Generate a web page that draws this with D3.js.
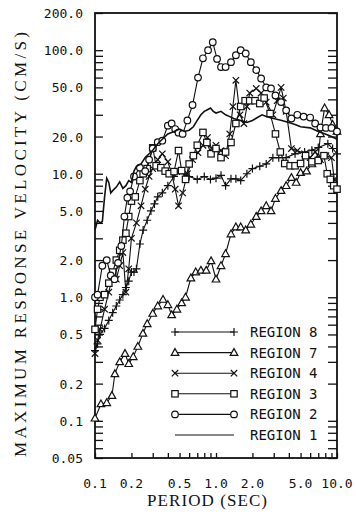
<!DOCTYPE html>
<html>
<head>
<meta charset="utf-8">
<script src="https://cdn.jsdelivr.net/npm/d3@7"></script>
<style>
  body { margin: 0; background: #fff; }
  .tick-label { font-family: "DejaVu Sans Mono", monospace; font-size: 13px; fill: #111; }
  .axis-title { font-family: "Liberation Serif", serif; font-size: 17px; fill: #111; }
  .legend-label { font-family: "DejaVu Sans Mono", monospace; font-size: 14px; fill: #111; }
</style>
</head>
<body>
<div id="chart"></div>
<script>
// [period (s), max response velocity (cm/s)]
const region1 = [[0.1,3.5],[0.105,4.2],[0.11,4.0],[0.115,4.1],[0.12,6.5],[0.125,9.2],[0.13,8.5],[0.135,7.0],[0.14,7.3],[0.15,7.8],[0.16,8.6],[0.17,7.6],[0.18,8.0],[0.19,8.8],[0.2,8.5],[0.21,10.5],[0.22,11.5],[0.24,12],[0.26,13.5],[0.28,14.5],[0.3,15.5],[0.33,17.5],[0.36,19],[0.4,21],[0.45,22],[0.5,23],[0.55,22],[0.6,22.5],[0.65,24],[0.7,27],[0.75,30],[0.8,32],[0.85,33],[0.9,34],[0.95,32],[1.0,31],[1.1,32],[1.2,30],[1.3,29],[1.4,28],[1.6,27],[1.8,26],[2.0,27],[2.2,28.5],[2.4,30],[2.6,29],[3.0,28],[3.5,27],[4.0,26],[4.5,25],[5.0,24],[6.0,23.5],[7.0,22],[8.0,21],[9.0,20],[10.0,19]];
const region2 = [[0.1,1.0],[0.105,1.05],[0.115,1.8],[0.125,2.0],[0.135,1.5],[0.145,1.4],[0.155,1.9],[0.165,2.6],[0.175,4.5],[0.185,6.4],[0.195,7.2],[0.21,9.5],[0.235,11.2],[0.26,10.5],[0.28,13],[0.3,16],[0.33,18],[0.36,18.5],[0.4,24.5],[0.43,25.5],[0.46,23],[0.49,21.5],[0.53,21],[0.58,27],[0.64,36],[0.71,60],[0.78,86],[0.86,100],[0.94,116],[1.02,85],[1.1,73],[1.2,73],[1.33,80],[1.46,91],[1.6,100],[1.76,94],[1.94,80],[2.15,69],[2.36,59],[2.6,50],[2.85,49],[3.1,43],[3.45,38],[3.8,32.6],[4.2,28],[4.7,30],[5.3,29],[6.0,28.5],[6.6,25.5],[7.3,23.7],[8.1,23.5],[9.0,23.5],[10,22]];
const region3 = [[0.1,0.55],[0.105,0.8],[0.11,1.0],[0.12,1.05],[0.13,1.3],[0.14,1.6],[0.15,2.0],[0.16,2.4],[0.17,2.9],[0.18,3.3],[0.19,4.5],[0.2,6],[0.215,6.5],[0.235,8.8],[0.25,10],[0.27,11],[0.3,16.2],[0.32,11.6],[0.35,11.2],[0.38,10.5],[0.41,10],[0.45,10.4],[0.49,15.4],[0.52,10.6],[0.56,9],[0.6,12],[0.65,14],[0.7,17],[0.78,21.6],[0.84,17.9],[0.91,14.5],[1.0,16],[1.1,13.5],[1.2,15],[1.33,17.9],[1.46,25.5],[1.6,35],[1.74,39],[1.9,39],[2.1,39],[2.3,37],[2.5,41],[2.8,30.7],[3.1,21],[3.4,15],[3.7,12.1],[4.1,11.6],[4.5,11.6],[5.0,12.1],[5.5,14],[6.2,12.5],[7.0,12.8],[7.8,14],[8.3,10],[8.8,9],[9.4,8],[10,7.5]];
const region4 = [[0.1,0.35],[0.105,0.45],[0.11,0.55],[0.12,0.8],[0.13,1.1],[0.14,1.5],[0.15,1.4],[0.16,1.8],[0.17,2.3],[0.18,1.1],[0.19,1.7],[0.2,3],[0.22,4],[0.24,5.5],[0.26,7.5],[0.28,9.5],[0.3,11],[0.33,13],[0.36,14.5],[0.4,12.5],[0.43,10],[0.46,7.5],[0.49,5.5],[0.53,7],[0.58,10],[0.64,13],[0.71,14.8],[0.78,17],[0.85,19.6],[0.92,16],[1.0,17],[1.1,15.4],[1.2,14],[1.3,21],[1.38,35],[1.46,57],[1.58,30],[1.7,25.5],[1.8,35],[1.9,45],[2.15,49],[2.36,45],[2.6,38],[2.95,30],[3.2,39],[3.45,50],[3.6,41],[3.8,32],[4.2,16],[4.7,15.4],[5.4,14.5],[6.0,13.5],[6.6,15],[7.3,13],[8.1,14],[9.0,13.5],[9.5,9],[10,7.5]];
const region7 = [[0.1,0.105],[0.112,0.137],[0.125,0.14],[0.138,0.16],[0.146,0.24],[0.16,0.3],[0.177,0.35],[0.19,0.29],[0.207,0.33],[0.226,0.4],[0.249,0.51],[0.27,0.61],[0.3,0.74],[0.33,0.85],[0.365,0.96],[0.4,0.87],[0.43,0.72],[0.475,0.8],[0.52,0.9],[0.56,1.0],[0.62,1.43],[0.68,1.6],[0.75,1.65],[0.83,1.65],[0.91,1.97],[1.0,1.4],[1.1,1.8],[1.2,2.25],[1.33,3.25],[1.46,3.7],[1.6,3.7],[1.76,3.5],[1.94,3.9],[2.15,4.5],[2.36,5],[2.6,5.5],[2.85,5.0],[3.1,6.3],[3.45,7.3],[3.8,8],[4.2,9.3],[4.6,8.5],[5.0,10.2],[5.6,10.5],[6.2,12],[7.0,13.5],[7.3,21],[7.9,34],[8.6,30],[9.2,25],[10,22]];
const region8 = [[0.1,0.37],[0.105,0.42],[0.11,0.5],[0.12,0.56],[0.13,0.65],[0.14,0.75],[0.15,0.85],[0.16,0.95],[0.17,1.05],[0.18,1.2],[0.19,1.35],[0.2,1.6],[0.21,1.6],[0.22,1.7],[0.235,2.7],[0.25,3.5],[0.27,4.2],[0.29,5.0],[0.31,5.7],[0.33,6.5],[0.36,7.0],[0.4,8],[0.45,9.5],[0.5,10.5],[0.55,10],[0.6,9.5],[0.7,9],[0.8,9.5],[0.9,9.0],[1.0,9.2],[1.1,9.7],[1.2,8],[1.33,9.1],[1.46,9.1],[1.6,8.8],[1.8,10],[2.0,11],[2.3,11.5],[2.6,12],[2.95,13.5],[3.3,13.5],[3.8,13.5],[4.5,14.5],[5.4,15],[6.2,15.5],[7.0,16.3],[8.4,17.5],[9.2,16],[10,14.5]];

const legendNames = ["REGION 8", "REGION 7", "REGION 4", "REGION 3", "REGION 2", "REGION 1"];
const legendSymbols = ["plus", "triangle", "cross", "square", "circle", "none"];
const seriesList = [region8, region7, region4, region3, region2, region1];

const yTickValues = [0.05, 0.1, 0.2, 0.5, 1, 2, 5, 10, 20, 50, 100, 200];
const yTickLabels = ["0.05", "0.1", "0.2", "0.5", "1.0", "2.0", "5.0", "10.0", "20.0", "50.0", "100.0", "200.0"];
const xTickValues = [0.1, 0.2, 0.5, 1, 2, 5, 10];
const xTickLabels = ["0.1", "0.2", "0.5", "1.0", "2.0", "5.0", "10.0"];

const width = 356, height = 514;
const margin = { top: 13, right: 19, bottom: 56, left: 95 };
const innerW = width - margin.left - margin.right;
const innerH = height - margin.top - margin.bottom;

const svg = d3.select("#chart").append("svg")
  .attr("width", width).attr("height", height);

const x = d3.scaleLog().domain([0.1, 10]).range([margin.left, width - margin.right]);
const y = d3.scaleLog().domain([0.05, 200]).range([height - margin.bottom, margin.top]);

// minor log ticks
function logTicks(lo, hi) {
  const out = [];
  for (let e = -2; e <= 2; e++) {
    for (let m = 1; m <= 9; m++) {
      const v = m * Math.pow(10, e);
      if (v >= lo * 0.999 && v <= hi * 1.001) out.push(+v.toPrecision(3));
    }
  }
  return out;
}
const yMinor = logTicks(0.05, 200);
const xMinor = logTicks(0.1, 10);

// left axis, ticks inward
svg.append("g")
  .attr("transform", `translate(${margin.left},0)`)
  .call(d3.axisRight(y).tickValues(yMinor).tickSize(8).tickFormat(""))
  .call(g => g.select(".domain").remove())
  .selectAll("line").attr("stroke", "#111").attr("stroke-width", 1.3);

// right axis, ticks inward
svg.append("g")
  .attr("transform", `translate(${width - margin.right},0)`)
  .call(d3.axisLeft(y).tickValues(yMinor).tickSize(9).tickFormat(""))
  .call(g => g.select(".domain").remove())
  .selectAll("line").attr("stroke", "#111").attr("stroke-width", 1.3);

// bottom axis, ticks inward
svg.append("g")
  .attr("transform", `translate(0,${height - margin.bottom})`)
  .call(d3.axisTop(x).tickValues(xMinor).tickSize(5).tickFormat(""))
  .call(g => g.select(".domain").remove())
  .selectAll("line").attr("stroke", "#111").attr("stroke-width", 1.3);

// frame
svg.append("rect")
  .attr("x", margin.left).attr("y", margin.top)
  .attr("width", innerW).attr("height", innerH)
  .attr("fill", "none").attr("stroke", "#111").attr("stroke-width", 1.8);

// tick labels
svg.append("g").selectAll("text")
  .data(yTickValues)
  .join("text")
  .attr("class", "tick-label")
  .attr("x", margin.left - 12)
  .attr("y", d => y(d) + 5)
  .attr("text-anchor", "end")
  .text((d, i) => yTickLabels[i]);

svg.append("g").selectAll("text")
  .data(xTickValues)
  .join("text")
  .attr("class", "tick-label")
  .attr("x", d => x(d))
  .attr("y", height - margin.bottom + 30)
  .attr("text-anchor", "middle")
  .text((d, i) => xTickLabels[i]);

// axis titles (typewriter style, stretched to the original extent)
svg.append("text")
  .attr("class", "axis-title")
  .attr("transform", `translate(26,457) rotate(-90)`)
  .attr("textLength", 425)
  .attr("lengthAdjust", "spacing")
  .text("MAXIMUM RESPONSE VELOCITY (CM/S)");

svg.append("text")
  .attr("class", "axis-title")
  .attr("x", 147)
  .attr("y", 506)
  .attr("textLength", 120)
  .attr("lengthAdjust", "spacing")
  .text("PERIOD (SEC)");

// markers
function drawSymbol(g, type, cx, cy) {
  if (type === "circle") {
    g.append("circle").attr("cx", cx).attr("cy", cy).attr("r", 3.3)
      .attr("fill", "#fff").attr("stroke", "#111").attr("stroke-width", 1.2);
  } else if (type === "square") {
    g.append("rect").attr("x", cx - 3.2).attr("y", cy - 3.2).attr("width", 6.4).attr("height", 6.4)
      .attr("fill", "#fff").attr("stroke", "#111").attr("stroke-width", 1.2);
  } else if (type === "triangle") {
    g.append("path").attr("d", `M${cx},${cy - 4}L${cx + 3.8},${cy + 2.8}L${cx - 3.8},${cy + 2.8}Z`)
      .attr("fill", "#fff").attr("stroke", "#111").attr("stroke-width", 1.2);
  } else if (type === "cross") {
    g.append("path").attr("d", `M${cx - 3.2},${cy - 3.2}L${cx + 3.2},${cy + 3.2}M${cx - 3.2},${cy + 3.2}L${cx + 3.2},${cy - 3.2}`)
      .attr("stroke", "#111").attr("stroke-width", 1.2);
  } else if (type === "plus") {
    g.append("path").attr("d", `M${cx - 4},${cy}L${cx + 4},${cy}M${cx},${cy - 4}L${cx},${cy + 4}`)
      .attr("stroke", "#111").attr("stroke-width", 1.2);
  }
}

const line = d3.line().x(d => x(d[0])).y(d => y(d[1]));

seriesList.forEach((data, i) => {
  const g = svg.append("g");
  g.append("path").datum(data)
    .attr("d", line)
    .attr("fill", "none")
    .attr("stroke", "#111")
    .attr("stroke-width", i === 5 ? 1.6 : 1.1);
  data.forEach(d => drawSymbol(g, legendSymbols[i], x(d[0]), y(d[1])));
});

// legend
const legendY = d3.scaleLinear().domain([0, 5]).range([332, 435]);
legendNames.forEach((name, i) => {
  const g = svg.append("g");
  const ly = legendY(i);
  g.append("line").attr("x1", 175).attr("x2", 234).attr("y1", ly).attr("y2", ly)
    .attr("stroke", "#111").attr("stroke-width", 1.1);
  drawSymbol(g, legendSymbols[i], 175, ly);
  drawSymbol(g, legendSymbols[i], 234, ly);
  g.append("text").attr("class", "legend-label")
    .attr("x", 250).attr("y", ly + 5)
    .text(name);
});
</script>
</body>
</html>
